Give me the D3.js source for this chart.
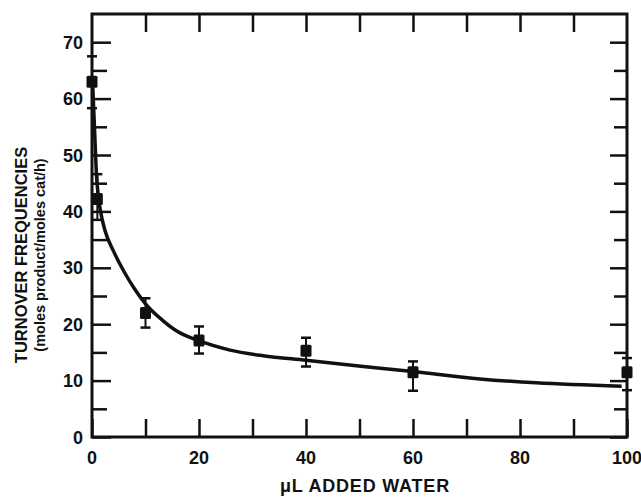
<!DOCTYPE html>
<html>
<head>
<meta charset="utf-8">
<script src="https://cdn.jsdelivr.net/npm/d3@7"></script>
<style>
  body { margin: 0; background: #fff; }
  svg text { font-family: "Liberation Sans", Arial, sans-serif; font-weight: bold; fill: #111; }
</style>
</head>
<body>
<div id="chart"></div>
<script>
// measured points (uL water, turnover freq) with error bar ends
const waterUL = [0, 1, 10, 20, 40, 60, 100];
const turnover = [63, 42.2, 22, 17.1, 15.3, 11.5, 11.5];
const errLow = [58.3, 38.5, 19.4, 14.8, 12.5, 8.2, 8.3];
const errHigh = [67.5, 46.6, 24.6, 19.6, 17.6, 13.4, 14.0];

// fitted curve
const curveX = [0.15, 0.5, 0.8, 1.2, 1.6, 2.4, 4, 6, 8, 10, 13.3, 16, 19.6, 25.8, 32, 40, 50.7, 60, 72.5, 83, 99];
const curveY = [62, 54, 47, 42.5, 40, 36.7, 33.0, 29.3, 26.2, 23.6, 20.6, 18.7, 17.2, 15.4, 14.4, 13.6, 12.5, 11.6, 10.3, 9.6, 9.0];

const xTickLabels = [0, 20, 40, 60, 80, 100];
const yTickLabels = [0, 10, 20, 30, 40, 50, 60, 70];

const margin = {top: 14, right: 14, bottom: 61, left: 92};
const W = 641, H = 498;
const width = W - margin.left - margin.right;
const height = H - margin.top - margin.bottom;

const svg = d3.select("#chart").append("svg")
    .attr("width", W).attr("height", H);
const g = svg.append("g").attr("transform", `translate(${margin.left},${margin.top})`);

const x = d3.scaleLinear().domain([0, 100]).range([0, width]);
const y = d3.scaleLinear().domain([0, 75]).range([height, 0]);

// ticks on all four sides, pointing inward
const xMinor = d3.range(0, 101, 10);
const yMinor = d3.range(0, 71, 5);

g.append("g").attr("transform", `translate(0,${height})`)
    .call(d3.axisBottom(x).tickValues(xMinor).tickSize(-18).tickFormat(""))
    .call(a => a.select(".domain").remove());
g.append("g")
    .call(d3.axisTop(x).tickValues(xMinor.slice(1, -1)).tickSize(-18).tickFormat(""))
    .call(a => a.select(".domain").remove());
g.append("g")
    .call(d3.axisLeft(y).tickValues(yMinor).tickSize(-15).tickFormat(""))
    .call(a => a.select(".domain").remove())
    .call(a => a.selectAll(".tick line").attr("x2", d => d % 10 === 0 ? 19 : 15));
g.append("g").attr("transform", `translate(${width},0)`)
    .call(d3.axisRight(y).tickValues(yMinor).tickSize(-13).tickFormat(""))
    .call(a => a.select(".domain").remove())
    .call(a => a.selectAll(".tick line").attr("x2", d => d % 10 === 0 ? -17 : -13));

g.selectAll(".tick line").attr("stroke", "#111").attr("stroke-width", 2.5);

// frame
g.append("rect").attr("width", width).attr("height", height)
    .attr("fill", "none").attr("stroke", "#111").attr("stroke-width", 3);

// tick labels
g.selectAll(".xlab").data(xTickLabels).join("text")
    .attr("x", d => x(d)).attr("y", height + 27)
    .attr("text-anchor", "middle").attr("font-size", 18).text(d => d);
g.selectAll(".ylab").data(yTickLabels).join("text")
    .attr("x", -9).attr("y", d => y(d) + 6.5)
    .attr("text-anchor", "end").attr("font-size", 18).text(d => d);

// axis titles
svg.append("text").attr("x", 365).attr("y", 492)
    .attr("text-anchor", "middle").attr("font-size", 18)
    .attr("letter-spacing", 0.8)
    .text("\u03bcL ADDED WATER");
svg.append("text").attr("transform", "translate(27,255) rotate(-90)")
    .attr("text-anchor", "middle").attr("font-size", 16.5)
    .text("TURNOVER FREQUENCIES");
svg.append("text").attr("transform", "translate(45,255) rotate(-90)")
    .attr("text-anchor", "middle").attr("font-size", 14.5)
    .text("(moles product/moles cat/h)");

// fitted curve
const line = d3.line().x(d => x(d[0])).y(d => y(d[1])).curve(d3.curveMonotoneX);
g.append("path").datum(d3.zip(curveX, curveY))
    .attr("d", line).attr("fill", "none")
    .attr("stroke", "#111").attr("stroke-width", 3.5);

// error bars and markers
const pts = waterUL.map((w, i) => ({w, v: turnover[i], lo: errLow[i], hi: errHigh[i]}));
const eb = g.selectAll(".err").data(pts).join("g");
eb.append("line").attr("x1", d => x(d.w)).attr("x2", d => x(d.w))
    .attr("y1", d => y(d.lo)).attr("y2", d => y(d.hi))
    .attr("stroke", "#111").attr("stroke-width", 2);
eb.append("line").attr("x1", d => x(d.w) - 5).attr("x2", d => x(d.w) + 5)
    .attr("y1", d => y(d.hi)).attr("y2", d => y(d.hi))
    .attr("stroke", "#111").attr("stroke-width", 2.5);
eb.append("line").attr("x1", d => x(d.w) - 5).attr("x2", d => x(d.w) + 5)
    .attr("y1", d => y(d.lo)).attr("y2", d => y(d.lo))
    .attr("stroke", "#111").attr("stroke-width", 2.5);
eb.append("rect").attr("x", d => x(d.w) - 5.5).attr("y", d => y(d.v) - 6)
    .attr("width", 11).attr("height", 12).attr("rx", 1.5)
    .attr("fill", "#111");
</script>
</body>
</html>
